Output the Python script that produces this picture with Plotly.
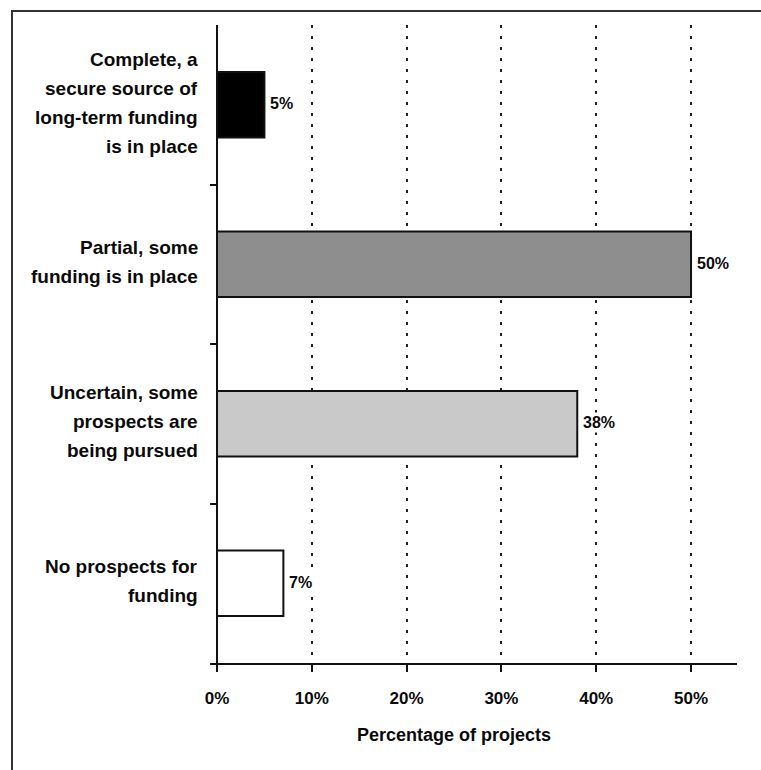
import plotly.graph_objects as go

# Funding status categories, top to bottom (lines of each label)
categories = [
    "Complete, a secure source of long-term funding is in place",
    "Partial, some funding is in place",
    "Uncertain, some prospects are being pursued",
    "No prospects for funding",
]
category_lines = [
    ["Complete, a", "secure source of", "long-term funding", "is in place"],
    ["Partial, some", "funding is in place"],
    ["Uncertain, some", "prospects are", "being pursued"],
    ["No prospects for", "funding"],
]
shares = [5, 50, 38, 7]  # percentage of projects
bar_colors = ["#000000", "#8e8e8e", "#c9c9c9", "#ffffff"]

x_ticks = [0, 10, 20, 30, 40, 50]
x_tick_labels = [f"{t}%" for t in x_ticks]

FONT = "Liberation Sans, Arial, sans-serif"
INK = "#0a0a0a"
LINE_STEP = 29  # px between label lines

fig = go.Figure()
fig.add_trace(go.Bar(
    x=shares,
    y=categories,
    orientation="h",
    width=0.41,
    marker=dict(color=bar_colors, line=dict(color="#111111", width=2)),
    hoverinfo="skip",
))

# category labels, right-aligned left of the axis, one annotation per line
for cat, lines in zip(categories, category_lines):
    n = len(lines)
    for i, line in enumerate(lines):
        fig.add_annotation(
            x=-0.019, y=cat, xref="paper", yref="y",
            text=f"<b>{line}</b>", showarrow=False,
            xanchor="right", yanchor="middle",
            yshift=-(i - (n - 1) / 2) * LINE_STEP + 2,
            font=dict(family=FONT, size=19, color=INK),
        )

# value labels with a white backing so the dotted grid breaks behind them
for cat, val in zip(categories, shares):
    fig.add_annotation(
        x=val, y=cat, xref="x", yref="y",
        text=f"<b>{val}%</b>", showarrow=False,
        xanchor="left", yanchor="middle", xshift=4, yshift=1,
        bgcolor="white", borderpad=1,
        font=dict(family=FONT, size=16, color=INK),
    )

# axis title centred under the 0–50% span
fig.add_annotation(
    x=25, y=-0.113, xref="x", yref="paper",
    text="<b>Percentage of projects</b>", showarrow=False,
    xanchor="center", yanchor="middle",
    font=dict(family=FONT, size=18, color=INK),
)

# outer frame around the chart
fig.add_shape(
    type="rect", xref="paper", yref="paper",
    x0=-0.3757, y0=-1.0, x1=2.0, y1=1.0219,
    line=dict(color="#333333", width=2), fillcolor="rgba(0,0,0,0)",
    layer="above",
)

fig.update_layout(
    width=761, height=770,
    margin=dict(l=210, r=24, t=25, b=107, autoexpand=False),
    paper_bgcolor="white", plot_bgcolor="white",
    showlegend=False,
    font=dict(family=FONT, color=INK),
    xaxis=dict(
        range=[-0.74, 54.85],
        tickvals=x_ticks, ticktext=[f"<b>{t}</b>" for t in x_tick_labels],
        tickfont=dict(family=FONT, size=17, color=INK),
        ticklabelstandoff=12,
        showline=True, linecolor="#111111", linewidth=2,
        ticks="outside", ticklen=7, tickwidth=2, tickcolor="#111111",
        showgrid=True, gridcolor="#222222", gridwidth=2, griddash="3px,8px",
        zeroline=True, zerolinecolor="#111111", zerolinewidth=2,
        automargin=False, fixedrange=True,
    ),
    yaxis=dict(
        type="category",
        categoryorder="array", categoryarray=categories[::-1],
        range=[-0.5, 3.5],
        tickson="boundaries",
        ticks="inside", ticklen=7, tickwidth=2, tickcolor="#111111",
        showticklabels=False,
        showline=False, showgrid=False, zeroline=False,
        automargin=False, fixedrange=True,
    ),
)

fig.write_html("out.html")
